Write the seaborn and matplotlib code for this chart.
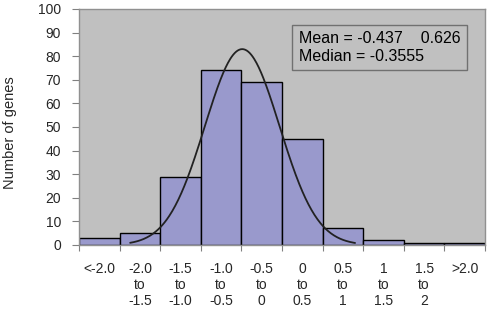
import numpy as np
import pandas as pd
import matplotlib
matplotlib.use("Agg")
import matplotlib.pyplot as plt
import seaborn as sns

categories = ["<-2.0", "-2.0\nto\n-1.5", "-1.5\nto\n-1.0", "-1.0\nto\n-0.5", "-0.5\nto\n0",
              "0\nto\n0.5", "0.5\nto\n1", "1\nto\n1.5", "1.5\nto\n2", ">2.0"]
counts = [3, 5, 29, 74, 69, 45, 7, 2, 1, 1]
# fitted normal curve (in log-ratio units)
curve_center = -0.49
curve_sd = 0.46
curve_peak = 83
curve_range = [-1.87, 0.90]
box_text = "Mean = -0.437    0.626\nMedian = -0.3555"
yticks = list(range(0, 101, 10))

sns.set_theme(style="white")
plt.rcParams["font.family"] = ["Liberation Sans", "DejaVu Sans"]

fig = plt.figure(figsize=(4.9, 3.09), dpi=100)
ax = fig.add_axes([79/490, 1 - 245/309, (485-79)/490, (245-9)/309])
ax.set_facecolor("#C0C0C0")

df = pd.DataFrame({"bin": categories, "count": counts})
sns.barplot(data=df, x="bin", y="count", ax=ax, color="#9999CC", saturation=1,
            width=1.0, edgecolor="black", linewidth=1.0, zorder=2)

# curve: map values onto categorical positions (bin "-2.0 to -1.5" centred at 1)
v = np.linspace(curve_range[0], curve_range[1], 300)
y = curve_peak * np.exp(-0.5 * ((v - curve_center) / curve_sd) ** 2)
p = 4.5 + 2 * v
ax.plot(p, y, color="#222222", linewidth=1.3, zorder=3)

ax.set_xlim(-0.5, len(categories) - 0.5)
ax.set_ylim(0, 100)
ax.set_yticks(yticks)
ax.tick_params(axis="y", labelsize=10, length=5, width=0.8, color="#808080",
               direction="out", left=True, pad=8)
ax.tick_params(axis="x", which="major", length=0, labelsize=10, pad=12)
ax.set_xticks(np.arange(len(categories) + 1) - 0.5, minor=True)
ax.tick_params(axis="x", which="minor", length=4, width=0.8, color="#808080",
               direction="out", bottom=True)
for lab in ax.get_xticklabels():
    lab.set_linespacing(1.18)
    lab.set_verticalalignment("top")

ax.set_xlabel("")
ax.set_ylabel("Number of genes", fontsize=10.5)
ax.yaxis.set_label_coords(-0.152, 0.475)
for s in ax.spines.values():
    s.set_color("#909090")
    s.set_linewidth(1.0)

ax.text(0.542, 0.905, box_text, transform=ax.transAxes, fontsize=11.5, va="top", ha="left",
        linespacing=1.18, color="black",
        bbox=dict(boxstyle="square,pad=0.42", facecolor="#C0C0C0", edgecolor="#707070", linewidth=1.0),
        zorder=5)

fig.savefig("out.png", dpi=100)
